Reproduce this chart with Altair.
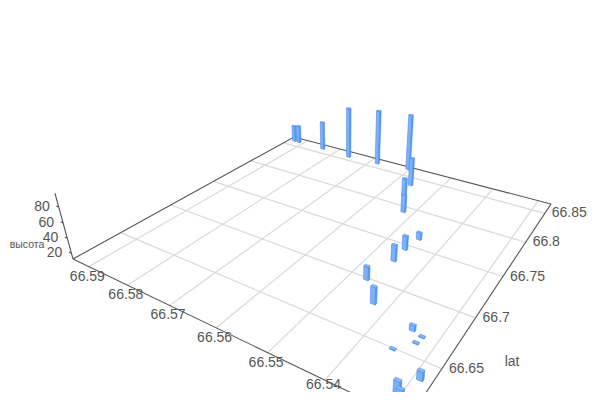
import altair as alt
import pandas as pd

# values
bar_lon = [66.5928, 66.5913, 66.5838, 66.5758, 66.568, 66.5604, 66.5562, 66.5551, 66.5521, 66.5448, 66.5455,
           66.5455, 66.5468, 66.5426, 66.5344, 66.5325, 66.5327, 66.535, 66.529, 66.5293, 66.5287]
bar_lat = [66.8606, 66.8603, 66.8596, 66.8574, 66.8592, 66.8638, 66.8364, 66.8156, 66.7918, 66.7617, 66.7442,
           66.7272, 66.6983, 66.6789, 66.6696, 66.6672, 66.6607, 66.6492, 66.6366, 66.611, 66.6095]
bar_height = [38, 40, 57, 91, 96, 97, 54, 39, 37, 22, 31, 34, 30, 34, 19, 13, 13, 13, 23, 47, 42]
lon_ticks = [66.59, 66.58, 66.57, 66.56, 66.55, 66.54, 66.53]
lon_labels = ["66.59", "66.58", "66.57", "66.56", "66.55", "66.54"]
lat_ticks = [66.65, 66.7, 66.75, 66.8, 66.85]
lat_labels = ["66.65", "66.7", "66.75", "66.8", "66.85"]
z_ticks = [20, 40, 60, 80]

LON0, LON1 = 66.5944, 66.5273
LAT0, LAT1 = 66.609, 66.868
Z0, Z1 = 12, 97
# camera (projective) coefficients
A, B, C, D, E, F, G, H = 216.3, 357.8, 73, 38.9, -58.3, 259, -0.2908, 0.4653
VX, VY, R = 345, 1250, -0.000732
HALF_LON, HALF_LAT = 0.00045, 0.001


def project(lon, lat, z):
    u = (lon - LON0) / (LON1 - LON0)
    v = (lat - LAT0) / (LAT1 - LAT0)
    s = R * (z - Z0)
    w = G * u + H * v + 1 + s
    return (A * u + B * v + C + VX * s) / w, (D * u + E * v + F + VY * s) / w


def rows_line(key, pts):
    out = []
    for i, p in enumerate(pts):
        x, y = project(*p)
        out.append({"key": key, "o": i, "x": x, "y": y})
    return out


grid, axes = [], []
for t in lon_ticks:
    grid += rows_line(f"lon{t}", [(t, LAT0, Z0), (t, LAT1, Z0)])
for t in lat_ticks:
    grid += rows_line(f"lat{t}", [(LON0, t, Z0), (LON1, t, Z0)])
axes += rows_line("a", [(LON0, LAT0, Z0), (LON1, LAT0, Z0), (LON1, LAT1, Z0), (LON0, LAT1, Z0), (LON0, LAT0, Z0)])
axes += rows_line("z", [(LON0, LAT0, Z0), (LON0, LAT0, Z1)])
for t in z_ticks:
    axes += rows_line(f"zt{t}", [(LON0, LAT0, t), (LON0 + 0.0007, LAT0 - 0.0, t)])

polys = []
order = sorted(range(len(bar_lon)), key=lambda i: (LON0 - bar_lon[i]) / (LON0 - LON1) - (bar_lat[i] - LAT0) / (LAT1 - LAT0))
for i in order:
    lo, la, zt = bar_lon[i], bar_lat[i], bar_height[i]
    l0, l1 = lo + HALF_LON, lo - HALF_LON   # far -> near along lon
    a0, a1 = la - HALF_LAT, la + HALF_LAT   # near -> far along lat
    faces = {
        "front": [(l0, a0, Z0), (l1, a0, Z0), (l1, a0, zt), (l0, a0, zt)],
        "side": [(l1, a0, Z0), (l1, a1, Z0), (l1, a1, zt), (l1, a0, zt)],
        "top": [(l0, a0, zt), (l1, a0, zt), (l1, a1, zt), (l0, a1, zt)],
    }
    for name, pts in faces.items():
        for r in rows_line(f"{i:02d}{name}", pts):
            r["face"] = name
            polys.append(r)

lon_text = []
for t, s in zip(lon_ticks, lon_labels):
    x, y = project(t, LAT0, Z0)
    lon_text.append({"x": x, "y": y, "t": s})
last_lon_text = [lon_text[-1]]
lon_text = lon_text[:-1]
lat_text = []
for t, s in zip(lat_ticks, lat_labels):
    x, y = project(LON1, t, Z0)
    lat_text.append({"x": x, "y": y, "t": s})
z_text = []
for t in z_ticks:
    x, y = project(LON0, LAT0, t)
    z_text.append({"x": x, "y": y, "t": str(t)})
nx, ny = project(LON1, (lat_ticks[0] + lat_ticks[1]) / 2, Z0)
lat_name = [{"x": nx, "y": ny, "t": "lat"}]
zx, zy = project(LON0, LAT0, (z_ticks[0] + z_ticks[1]) / 2)
z_name = [{"x": zx, "y": zy, "t": "высота"}]

X = alt.X("x:Q", scale=alt.Scale(domain=[8, 592], nice=False, zero=False), axis=None)
Y = alt.Y("y:Q", scale=alt.Scale(domain=[392, 8], nice=False, zero=False), axis=None)
TXT = dict(font="Liberation Sans", color="#555555")


def lines(rows, **kw):
    return alt.Chart(pd.DataFrame(rows)).mark_line(**kw).encode(X, Y, detail="key:N", order="o:Q")


def text(rows, size=14, **kw):
    return alt.Chart(pd.DataFrame(rows)).mark_text(fontSize=size, **TXT, **kw).encode(X, Y, text="t:N")


bars = alt.Chart(pd.DataFrame(polys)).mark_line(
    interpolate="linear-closed", stroke="#4a8cef", strokeWidth=0.6, fillOpacity=1
).encode(
    X, Y, detail="key:N", order="o:Q",
    fill=alt.Fill("face:N", scale=alt.Scale(domain=["front", "side", "top"],
                                            range=["#7db2f9", "#5c99f3", "#8dbcfa"]), legend=None),
)

chart = alt.layer(
    lines(grid, color="#d9d9d9", strokeWidth=1.2),
    lines(axes, color="#555555", strokeWidth=1.1),
    text(lon_text, dx=-1.5, dy=10, align="center"),
    text(last_lon_text, dx=-1.5, dy=5, align="center"),
    text(lat_text, dx=7, align="left"),
    text(z_text, dx=-9, align="right"),
    text(lat_name, dx=45, dy=20, align="left"),
    text(z_name, size=10.5, dx=-25, dy=-1, align="right"),
    bars,
).properties(width=584, height=384, padding=0, background="white",
             autosize=alt.AutoSizeParams(type="none")).configure_view(stroke=None)

chart.save("out.html", embed_options={"renderer": "svg", "actions": False})
